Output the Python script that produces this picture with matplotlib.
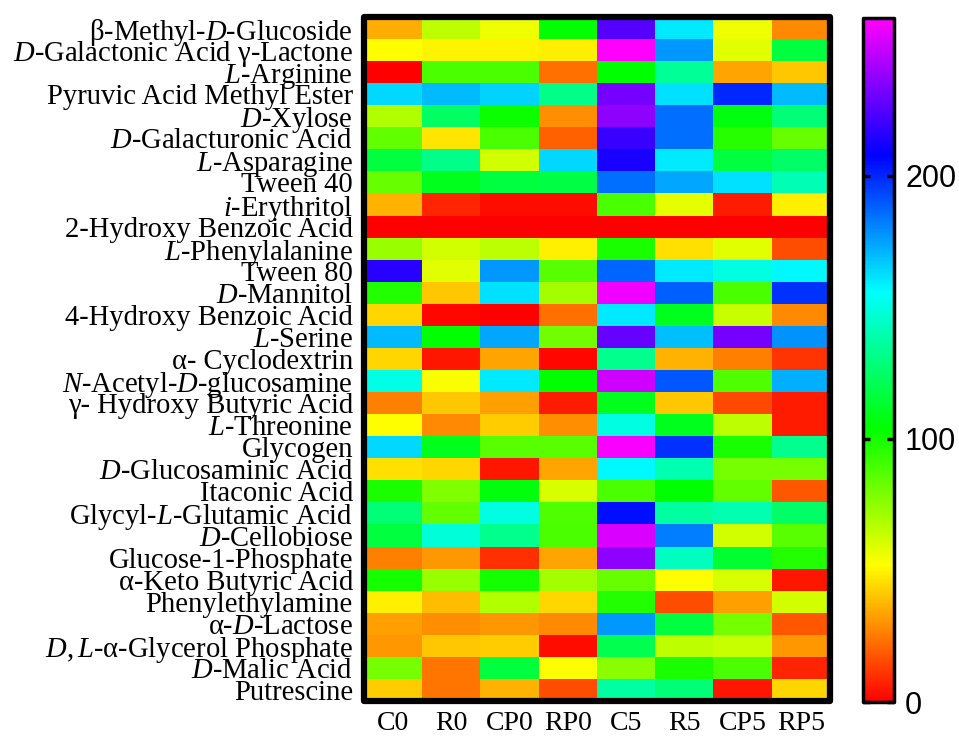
import numpy as np
import matplotlib
matplotlib.use("Agg")
import matplotlib.pyplot as plt
from matplotlib.colors import ListedColormap, hsv_to_rgb
from matplotlib.patches import Rectangle

plt.rcParams['font.family'] = ['Liberation Serif', 'DejaVu Serif']
plt.rcParams['mathtext.fontset'] = 'custom'
plt.rcParams['mathtext.rm'] = 'Liberation Serif'
plt.rcParams['mathtext.it'] = 'Liberation Serif:italic'

substrates = [
    r"β-Methyl-$\mathit{D}$-Glucoside",
    r"$\mathit{D}$-Galactonic Acid γ-Lactone",
    r"$\mathit{L}$-Arginine",
    "Pyruvic Acid Methyl Ester",
    r"$\mathit{D}$-Xylose",
    r"$\mathit{D}$-Galacturonic Acid",
    r"$\mathit{L}$-Asparagine",
    "Tween 40",
    r"$\mathit{i}$-Erythritol",
    "2-Hydroxy Benzoic Acid",
    r"$\mathit{L}$-Phenylalanine",
    "Tween 80",
    r"$\mathit{D}$-Mannitol",
    "4-Hydroxy Benzoic Acid",
    r"$\mathit{L}$-Serine",
    "α- Cyclodextrin",
    r"$\mathit{N}$-Acetyl-$\mathit{D}$-glucosamine",
    "γ- Hydroxy Butyric Acid",
    r"$\mathit{L}$-Threonine",
    "Glycogen",
    r"$\mathit{D}$-Glucosaminic Acid",
    "Itaconic Acid",
    r"Glycyl-$\mathit{L}$-Glutamic Acid",
    r"$\mathit{D}$-Cellobiose",
    "Glucose-1-Phosphate",
    "α-Keto Butyric Acid",
    "Phenylethylamine",
    r"α-$\mathit{D}$-Lactose",
    r"$\mathit{D,L}$-α-Glycerol Phosphate",
    r"$\mathit{D}$-Malic Acid",
    "Putrescine",
]

treatments = ["C0", "R0", "CP0", "RP0", "C5", "R5", "CP5", "RP5"]

C0 = [36, 52, 0, 164, 68, 84, 117, 83, 37, 0, 73, 216, 97, 44, 170, 44, 151, 26, 52, 164, 46, 99, 128, 117, 26, 100, 49, 33, 31, 80, 42]
R0 = [65, 50, 89, 170, 124, 47, 132, 110, 8, 0, 61, 58, 41, 2, 104, 5, 53, 41, 28, 110, 44, 78, 84, 148, 31, 73, 39, 29, 41, 24, 24]
CP0 = [55, 50, 89, 165, 102, 89, 61, 117, 3, 0, 66, 177, 162, 0, 174, 34, 160, 33, 42, 86, 5, 107, 150, 133, 10, 100, 68, 31, 42, 117, 37]
RP0 = [104, 49, 23, 132, 29, 20, 164, 118, 3, 0, 49, 86, 71, 23, 81, 2, 104, 6, 29, 86, 34, 60, 88, 89, 34, 71, 44, 28, 3, 52, 16]
C5 = [225, 260, 104, 232, 237, 219, 213, 185, 89, 0, 99, 187, 257, 160, 229, 133, 250, 110, 150, 258, 157, 89, 205, 252, 237, 83, 97, 177, 120, 76, 137]
R5 = [160, 177, 135, 162, 185, 185, 160, 174, 57, 0, 46, 160, 188, 110, 169, 37, 190, 41, 110, 198, 140, 104, 137, 182, 143, 52, 16, 117, 65, 99, 128]
CP5 = [55, 58, 34, 200, 107, 96, 117, 162, 6, 0, 58, 150, 89, 63, 232, 26, 88, 15, 65, 99, 80, 84, 140, 61, 114, 60, 33, 80, 63, 89, 5]
RP5 = [28, 117, 41, 170, 128, 83, 125, 141, 49, 0, 16, 157, 198, 28, 178, 11, 172, 6, 6, 133, 80, 18, 125, 86, 97, 5, 61, 18, 31, 8, 44]

cbar_ticks = [0, 100, 200]
vmin, vmax = 0, 260

data = np.array([C0, R0, CP0, RP0, C5, R5, CP5, RP5], dtype=float).T

# rainbow: red -> yellow -> green -> cyan -> blue -> magenta
hues = np.linspace(0, 300 / 360, 512)
rgb = hsv_to_rgb(np.stack([hues, np.ones_like(hues), np.ones_like(hues)], axis=1))
cmap = ListedColormap(rgb)

W, H = 959, 737
fig = plt.figure(figsize=(W / 100, H / 100), dpi=100)

ax = fig.add_axes([364 / W, 1 - 701 / H, (830 - 364) / W, (701 - 17) / H])
im = ax.imshow(data, cmap=cmap, vmin=vmin, vmax=vmax, aspect='auto',
               interpolation='nearest')
ax.set_yticks(range(len(substrates)))
ax.set_yticklabels(substrates, fontsize=20.6)
ax.set_xticks(range(len(treatments)))
ax.set_xticklabels(treatments, fontsize=20)
ax.tick_params(axis='both', length=0)
ax.tick_params(axis='y', pad=8)
ax.tick_params(axis='x', pad=7)
for s in ax.spines.values():
    s.set_visible(False)
ax.add_patch(Rectangle((0, 0), 1, 1, transform=ax.transAxes, fill=False,
                       edgecolor='black', linewidth=4.5, joinstyle='round',
                       clip_on=False, zorder=5))

cax = fig.add_axes([863 / W, 1 - 702 / H, (894 - 863) / W, (702 - 18) / H])
cb = fig.colorbar(im, cax=cax)
cb.set_ticks(cbar_ticks)
cb.outline.set_visible(False)
cax.add_patch(Rectangle((0, 0), 1, 1, transform=cax.transAxes, fill=False,
                        edgecolor='black', linewidth=2.5, joinstyle='round',
                        clip_on=False, zorder=5))
cax.yaxis.set_ticks_position('both')
cax.tick_params(axis='y', direction='in', length=5, width=2.5, pad=8,
                labelsize=22)
for lab in cax.get_yticklabels():
    lab.set_fontfamily(['Liberation Sans', 'DejaVu Sans'])

fig.savefig("out.png", dpi=100)
